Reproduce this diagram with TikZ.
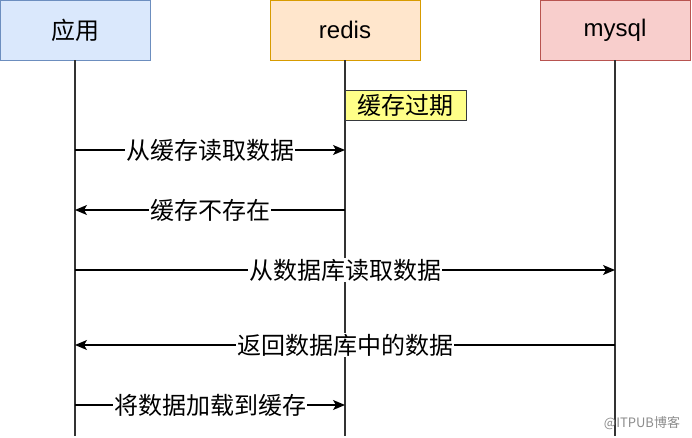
\documentclass[tikz,border=0pt]{standalone}
\usepackage{fontspec}
\setmainfont{Liberation Sans}
\newfontfamily\cjk{Noto Sans CJK SC}
\usetikzlibrary{arrows.meta}

\definecolor{appfill}{HTML}{DAE8FC}
\definecolor{appline}{HTML}{6C8EBF}
\definecolor{redisfill}{HTML}{FFE6CC}
\definecolor{redisline}{HTML}{D79B00}
\definecolor{sqlfill}{HTML}{F8CECC}
\definecolor{sqlline}{HTML}{B85450}
\definecolor{notefill}{HTML}{FFFF88}
\definecolor{noteline}{HTML}{36393D}
\definecolor{life}{HTML}{333333}

\tikzset{
  actor/.style={draw, line width=0.8pt, minimum width=150pt, minimum height=60pt,
    inner sep=0pt, font=\fontsize{24}{28}\selectfont\cjk},
  lifeline/.style={draw=life, line width=1.8pt},
  msg/.style={draw=black, line width=1.2pt,
    -{Stealth[length=12pt, width=10pt, inset=3pt]}},
  lbl/.style={fill=white, inner sep=1pt, font=\fontsize{24}{28}\selectfont\cjk},
}

\begin{document}
\begin{tikzpicture}[x=1pt, y=-1pt]
  \useasboundingbox (0,0) rectangle (692,438);

  % actors
  \node[actor, fill=appfill, draw=appline] (app) at (75,30) {应用};
  \node[actor, fill=redisfill, draw=redisline, font=\fontsize{24}{28}\selectfont] (redis) at (345,30) {redis};
  \node[actor, fill=sqlfill, draw=sqlline, font=\fontsize{24}{28}\selectfont] (mysql) at (615,30) {mysql};

  % lifelines
  \coordinate (app-end) at (75,436);
  \coordinate (redis-end) at (345,436);
  \coordinate (mysql-end) at (615,436);
  \draw[lifeline] (app.south) -- (app-end);
  \draw[lifeline] (redis.south) -- (redis-end);
  \draw[lifeline] (mysql.south) -- (mysql-end);

  % note
  \node[lbl, draw=noteline, fill=notefill, line width=0.8pt, anchor=west,
    minimum width=121pt, minimum height=30pt, inner sep=0pt] (expire) at (345,105) {缓存过期};

  % message rows
  \foreach \n/\y in {1/150, 2/210, 3/270, 4/345, 5/405} {
    \coordinate (a\n) at (75,\y);
    \coordinate (r\n) at (345,\y);
    \coordinate (m\n) at (615,\y);
  }

  \path
    (a1) edge[msg] node[lbl] {从缓存读取数据} (r1)
    (r2) edge[msg] node[lbl] {缓存不存在} (a2)
    (a3) edge[msg] node[lbl] {从数据库读取数据} (m3)
    (m4) edge[msg] node[lbl] {返回数据库中的数据} (a4)
    (a5) edge[msg] node[lbl] {将数据加载到缓存} (r5);

  % watermark
  \node[text=black!45, font=\fontsize{13}{15}\selectfont\cjk, inner sep=0pt] (mark) at (642,423) {@ITPUB博客};
\end{tikzpicture}
\end{document}
